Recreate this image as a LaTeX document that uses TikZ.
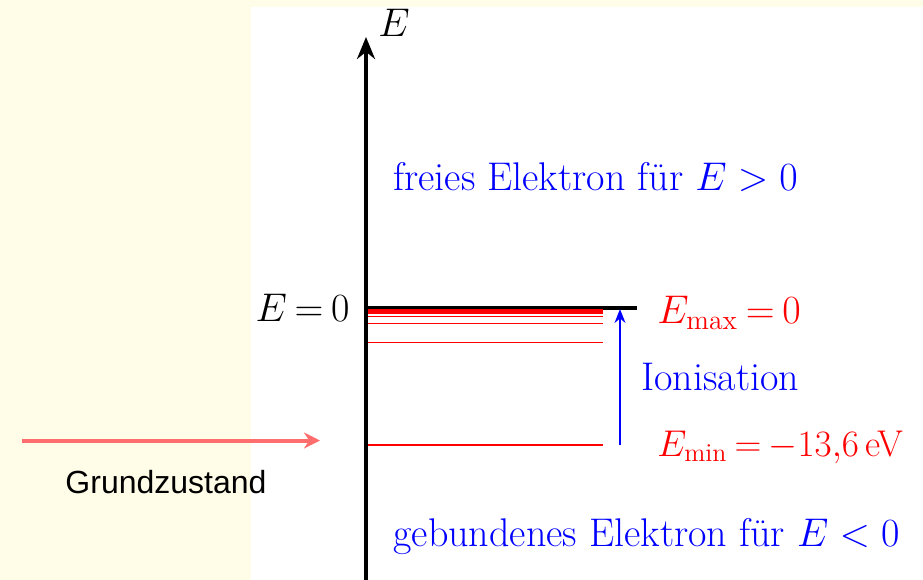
\documentclass[tikz,border=0pt]{standalone}
\usepackage{amsmath,amssymb}
\usepackage{fontspec}
\newfontfamily\arialfont{Liberation Sans}
\usetikzlibrary{positioning,arrows.meta,calc}
\definecolor{cream}{HTML}{FFFCE8}
\definecolor{pinkred}{HTML}{FF6E6E}
\tikzset{
  bigtext/.style={font=\huge,scale=1.93,inner sep=0pt},
  tight/.style={execute at begin node={\thickmuskip=3.5mu plus 2mu}},
  level/.style={draw=red,line width=1.4pt},
}

\begin{document}
\begin{tikzpicture}[x=1pt,y=-1pt]
\useasboundingbox (0,0) rectangle (923,580);
\fill[cream] (0,0) rectangle (923,580);
\fill[white] (251,7) rectangle (923,580);

% energy axis
\coordinate (bottom) at (366,580);
\coordinate (top) at (366,37);
\draw[line width=4.5pt,-{Stealth[length=22pt,width=18pt]}] (bottom) -- (top);
\node[bigtext,anchor=base west] (elabel) at (378,37) {$E$};

% E = 0 line
\coordinate (zero) at (366,308);
\coordinate (zeroend) at (637,308);
\draw[line width=4.5pt] (zero) -- (zeroend);
\node[bigtext,tight,anchor=base east] (ezero) at (350,321) {$E=0$};

% levels E_n = -13.6/n^2
\foreach \n in {1,...,9}{
  \pgfmathsetmacro{\yy}{308+137/(\n*\n)}
  \draw[level] (368,\yy) -- (603,\yy);
}

% ionisation arrow
\coordinate (ionlow) at (620,445);
\coordinate (ionhigh) at (620,309);
\draw[blue,line width=1.5pt,-{Stealth[length=14pt,width=11pt]}] (ionlow) -- (ionhigh);

\node[bigtext,text=blue,anchor=base west] (free) at (393,190) {freies Elektron für $E>0$};
\node[bigtext,tight,text=red,anchor=base west] (emax) at (657,323) {$E_{\text{max}}=0$};
\node[bigtext,text=blue,anchor=base west] (ion) at (641,390) {Ionisation};
\node[bigtext,tight,scale=0.93,text=red,anchor=base west] (emin) at (657,456) {$E_{\text{min}}=-13{,}6\,\text{eV}$};
\node[bigtext,text=blue,anchor=base west] (bound) at (393,546) {gebundenes Elektron für $E<0$};

% ground state marker
\coordinate (gsstart) at (22,440.5);
\coordinate (gsend) at (320,440.5);
\draw[pinkred,line width=4pt,-{Stealth[length=16pt,width=16pt]}] (gsstart) -- (gsend);
\node[font=\arialfont\fontsize{32}{38}\selectfont,inner sep=0pt] (gs) at (166,482) {Grundzustand};
\end{tikzpicture}
\end{document}
